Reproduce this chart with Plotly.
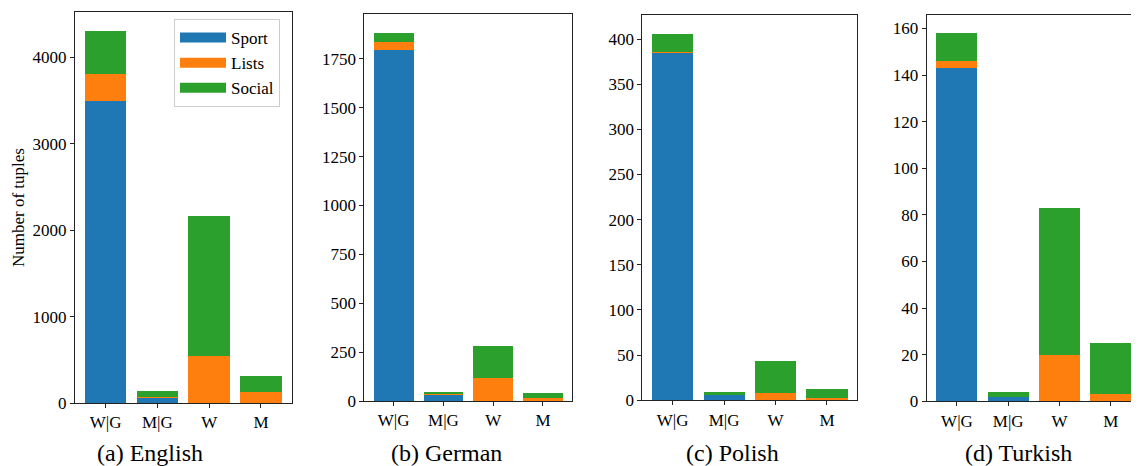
import plotly.graph_objects as go

# ---------------- data ----------------
categories = ["W|G", "M|G", "W", "M"]
captions = ["(a) English", "(b) German", "(c) Polish", "(d) Turkish"]
series_names = ["Sport", "Lists", "Social"]

sport_en = [3500, 60, 0, 0]
lists_en = [310, 10, 545, 130]
social_en = [496, 70, 1620, 182]

sport_de = [1795, 30, 0, 0]
lists_de = [42, 6, 120, 17]
social_de = [47, 10, 162, 24]

sport_pl = [385, 6, 0, 0]
lists_pl = [1, 0, 8, 3]
social_pl = [20, 3, 36, 10]

sport_tr = [143, 2, 0, 0]
lists_tr = [3, 0, 20, 3]
social_tr = [12, 2, 63, 22]

y_dticks = [1000, 250, 50, 20]

# ---------------- style ----------------
OFF = 8  # page body margin of the html page
W, H = 1139 - OFF, 466 - OFF
colors = ["#1f77b4", "#ff7f0e", "#2ca02c"]
FONT = "Liberation Serif"
TICK_SIZE = 17
CAP_SIZE = 24

# axes boxes in window pixels: (left, right, top, bottom)
boxes = [(75, 291.5, 12.3, 403), (364.3, 572.3, 14.3, 401),
         (642.3, 857.3, 15.3, 400.3), (926.7, 1141, 14.7, 401.3)]
caption_x = [150, 446.7, 732.5, 1018]


def px(v):
    return v - OFF


panels = [
    (sport_en, lists_en, social_en),
    (sport_de, lists_de, social_de),
    (sport_pl, lists_pl, social_pl),
    (sport_tr, lists_tr, social_tr),
]

fig = go.Figure()
layout = {}
annotations = []

for i, (sp, li, so) in enumerate(panels):
    n = "" if i == 0 else str(i + 1)
    xa, ya = "x" + n, "y" + n
    for name, vals, col in zip(series_names, (sp, li, so), colors):
        fig.add_trace(go.Bar(
            x=list(range(len(categories))), y=vals, name=name,
            marker=dict(color=col, line=dict(width=0)),
            width=0.8, xaxis=xa, yaxis=ya, showlegend=False,
        ))
    l, r, t, b = [px(v) for v in boxes[i]]
    px_per_unit = (r - l) / 4.18
    x0 = -0.59
    right = min(r, W)
    x1 = x0 + (right - l) / px_per_unit
    totals = [a + c + d for a, c, d in zip(sp, li, so)]
    ymax = max(totals) * 1.05
    dt = y_dticks[i]
    tv = list(range(0, int(ymax) + 1, dt))
    layout["xaxis" + n] = dict(
        domain=[l / W, right / W], range=[x0, x1], anchor=ya,
        tickvals=list(range(len(categories))), ticktext=categories,
        ticks="outside", ticklen=4, tickwidth=1, tickcolor="#222",
        showline=True, linecolor="#222", linewidth=1, mirror=True,
        showgrid=False, zeroline=False, automargin=False,
        tickfont=dict(family=FONT, size=TICK_SIZE, color="black"),
    )
    layout["yaxis" + n] = dict(
        domain=[1 - b / H, 1 - t / H], range=[0, ymax], anchor=xa,
        tickvals=tv, ticks="outside", ticklen=4, tickwidth=1, tickcolor="#222",
        showline=True, linecolor="#222", linewidth=1, mirror=(i < 3),
        showgrid=False, zeroline=False, automargin=False,
        tickfont=dict(family=FONT, size=TICK_SIZE, color="black"),
    )
    annotations.append(dict(
        text=captions[i], xref="paper", yref="paper",
        x=px(caption_x[i]) / W, y=1 - px(438) / H, xanchor="center", yanchor="top",
        showarrow=False, font=dict(family=FONT, size=CAP_SIZE, color="black"),
    ))

# legend proxies (wide colour patches like the original)
for name, col in zip(series_names, colors):
    fig.add_trace(go.Scatter(
        x=[None], y=[None], mode="lines", name=name,
        line=dict(color=col, width=13), xaxis="x", yaxis="y",
    ))

annotations.append(dict(
    text="Number of tuples", xref="paper", yref="paper",
    x=px(18) / W, y=1 - px(208) / H, xanchor="center", yanchor="middle",
    textangle=-90, showarrow=False,
    font=dict(family=FONT, size=TICK_SIZE, color="black"),
))

fig.update_layout(
    width=W, height=H, autosize=False,
    margin=dict(l=0, r=0, t=0, b=0),
    barmode="stack",
    plot_bgcolor="white", paper_bgcolor="white",
    annotations=annotations,
    legend=dict(
        x=px(174) / W, y=1 - px(19) / H, xanchor="left", yanchor="top",
        traceorder="normal",
        bgcolor="rgba(255,255,255,0.8)", bordercolor="#cccccc", borderwidth=1,
        font=dict(family=FONT, size=TICK_SIZE, color="black"),
        itemwidth=46,
    ),
    **layout,
)

fig.write_html("out.html")
